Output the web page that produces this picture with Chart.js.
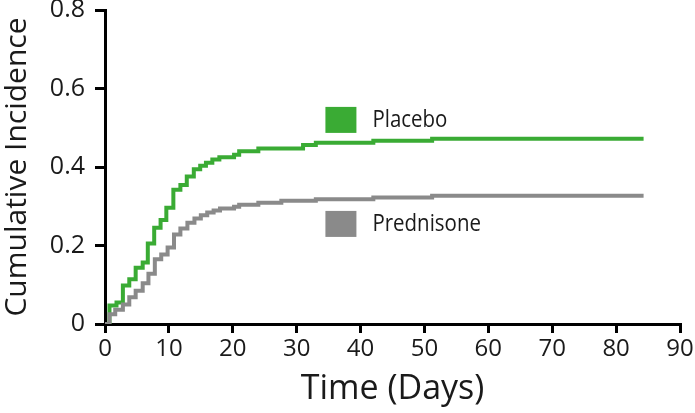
<!DOCTYPE html>
<html>
<head>
<meta charset="utf-8">
<script src="https://cdn.jsdelivr.net/npm/chart.js@4.4.1/dist/chart.umd.min.js"></script>
<style>
  html, body { margin: 0; padding: 0; background: #ffffff; }
  #wrap { width: 695px; height: 413px; position: relative; }
</style>
</head>
<body>
<div id="wrap"><canvas id="c" width="695" height="413"></canvas></div>
<script>
// ---- data ----
const placeboDays = [0, 0.7, 1.8, 2.8, 3.8, 4.8, 5.9, 6.7, 7.7, 8.7, 9.6, 10.7, 11.8, 12.8, 13.9, 14.9, 15.8, 16.8, 17.9, 20.2, 21.0, 24.0, 31.0, 33.0, 42.0, 51.2, 84.3];
const placeboValues = [0, 0.047, 0.055, 0.098, 0.114, 0.143, 0.157, 0.205, 0.245, 0.265, 0.296, 0.342, 0.354, 0.376, 0.394, 0.403, 0.411, 0.419, 0.425, 0.431, 0.440, 0.447, 0.456, 0.462, 0.467, 0.472, 0.472];

const prednisoneDays = [0, 0.7, 1.6, 2.8, 3.8, 4.8, 5.9, 6.8, 7.8, 8.8, 9.8, 10.8, 11.8, 12.9, 14.0, 15.0, 16.0, 17.0, 18.0, 20.2, 21.0, 24.0, 27.6, 33.0, 42.0, 51.2, 84.3];
const prednisoneValues = [0, 0.025, 0.036, 0.050, 0.068, 0.085, 0.104, 0.128, 0.165, 0.177, 0.195, 0.228, 0.243, 0.258, 0.269, 0.277, 0.284, 0.289, 0.294, 0.299, 0.304, 0.309, 0.314, 0.318, 0.322, 0.327, 0.327];

const seriesNames = ["Placebo", "Prednisone"];
const xTicks = [0, 10, 20, 30, 40, 50, 60, 70, 80, 90];
const yTicks = [0, 0.2, 0.4, 0.6, 0.8];
const xTitle = "Time (Days)";
const yTitle = "Cumulative Incidence";

// legend anchor, in data units (day, value)
const legendAnchorDay = 34.5;
const legendAnchorValues = [0.52, 0.255];

const GREEN = "#3aab34";
const GRAY = "#8a8a8a";
const TEXT = "#1a1a1a";
const FONT = "'Open Sans', 'DejaVu Sans', sans-serif";

function toPoints(days, vals) { return days.map((d, i) => ({ x: d, y: vals[i] })); }

const legendPlugin = {
  id: 'kmLegend',
  afterDatasetsDraw(chart) {
    const { ctx, scales: { x, y } } = chart;
    const colors = [GREEN, GRAY];
    seriesNames.forEach((name, i) => {
      const left = x.getPixelForValue(legendAnchorDay);
      const cy = y.getPixelForValue(legendAnchorValues[i]);
      ctx.save();
      ctx.fillStyle = colors[i];
      ctx.fillRect(left, cy - 13, 31, 26);
      ctx.fillStyle = TEXT;
      ctx.font = "23px " + FONT;
      ctx.textBaseline = "middle";
      ctx.textAlign = "left";
      ctx.translate(left + 47, cy + 1);
      ctx.scale(0.89, 1);
      ctx.fillText(name, 0, 0);
      ctx.restore();
    });
  }
};

new Chart(document.getElementById('c'), {
  type: 'line',
  data: {
    datasets: [
      { label: seriesNames[1], data: toPoints(prednisoneDays, prednisoneValues), borderColor: GRAY, backgroundColor: GRAY, borderWidth: 4, pointRadius: 0, stepped: true, fill: false },
      { label: seriesNames[0], data: toPoints(placeboDays, placeboValues), borderColor: GREEN, backgroundColor: GREEN, borderWidth: 4, pointRadius: 0, stepped: true, fill: false }
    ]
  },
  options: {
    responsive: false,
    animation: false,
    devicePixelRatio: 1,
    layout: { padding: { top: 10, right: 15, left: 0, bottom: 0 } },
    plugins: { legend: { display: false }, tooltip: { enabled: false } },
    scales: {
      x: {
        type: 'linear', min: 0, max: 90,
        afterFit(s) { s.height = 89; s.paddingRight = 0; s.paddingLeft = 0; },
        afterBuildTicks(s) { s.ticks = xTicks.map(v => ({ value: v })); },
        border: { display: true, color: '#000', width: 3 },
        grid: { display: true, drawOnChartArea: false, drawTicks: true, tickLength: 9, color: '#000', lineWidth: 3 },
        ticks: { color: TEXT, font: { family: FONT, size: 24 }, padding: 2, maxRotation: 0, autoSkip: false },
        title: { display: true, text: xTitle, color: TEXT, font: { family: FONT, size: 34 }, padding: { top: 0, bottom: 3 } }
      },
      y: {
        type: 'linear', min: 0, max: 0.8,
        afterFit(s) { s.width = 105; s.paddingTop = 0; s.paddingBottom = 0; },
        afterBuildTicks(s) { s.ticks = yTicks.map(v => ({ value: v })); },
        border: { display: true, color: '#000', width: 3 },
        grid: { display: true, drawOnChartArea: false, drawTicks: true, tickLength: 10, color: '#000', lineWidth: 3 },
        ticks: { color: TEXT, font: { family: FONT, size: 25 }, padding: 10, callback: v => String(Math.round(v * 10) / 10) },
        title: { display: true, text: yTitle, color: TEXT, font: { family: FONT, size: 30 }, padding: { top: -1, bottom: 0 } }
      }
    }
  },
  plugins: [legendPlugin]
});
</script>
</body>
</html>
